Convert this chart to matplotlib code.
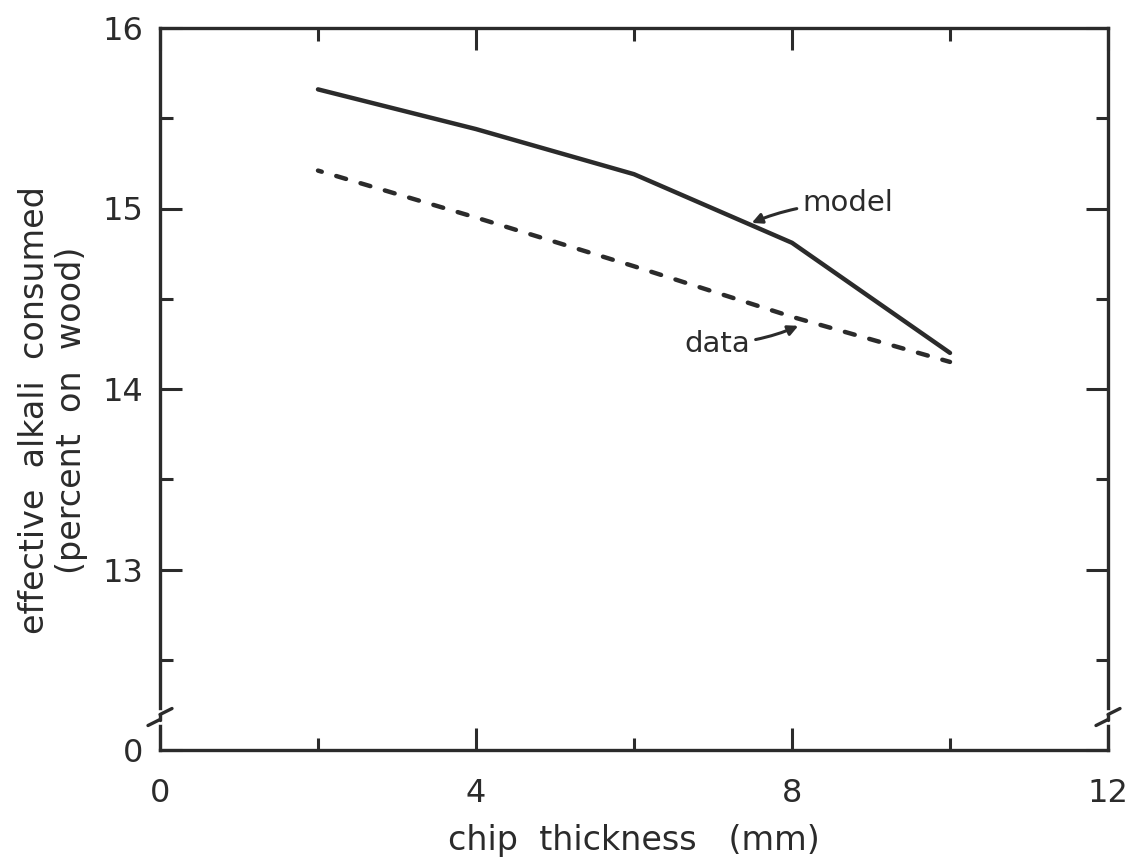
import matplotlib
matplotlib.use("Agg")
import matplotlib.pyplot as plt
from matplotlib.lines import Line2D

# data
chip_thickness = [2, 4, 6, 8, 10]
model_values = [15.66, 15.44, 15.19, 14.81, 14.20]
data_values = [15.21, 14.95, 14.68, 14.40, 14.15]
x_ticks = [0, 4, 8, 12]
x_tick_labels = ["0", "4", "8", "12"]
y_ticks = [12, 13, 14, 15, 16]
y_tick_labels = ["0", "13", "14", "15", "16"]

ink = "#2b2b2b"
plt.rcParams['font.family'] = ['DejaVu Sans']

fig = plt.figure(figsize=(11.29, 8.65), dpi=100)
ax = fig.add_axes([160/1129, 1-750/865, (1108-160)/1129, (750-28)/865])

ax.plot(chip_thickness, model_values, color=ink, lw=3.2, solid_capstyle='round')
# dashed line drawn from the right end so that both ends show a full dash
ax.plot(chip_thickness[::-1], data_values[::-1], color=ink, lw=3.2,
        linestyle=(0.5, (2.3, 3.4)), dash_capstyle='round')

ax.set_xlim(0, 12)
ax.set_ylim(12, 16)
ax.set_xticks(x_ticks)
ax.set_xticklabels(x_tick_labels)
ax.set_xticks([2, 6, 10], minor=True)
ax.set_yticks(y_ticks)
ax.set_yticklabels(y_tick_labels)
ax.set_yticks([12.5, 13.5, 14.5, 15.5], minor=True)

ax.tick_params(which='both', direction='in', top=True, right=True, width=2.2, color=ink,
               labelsize=23, labelcolor=ink)
ax.tick_params(which='major', length=16)
ax.tick_params(which='minor', length=9)
ax.tick_params(axis='x', which='major', pad=20)
ax.tick_params(axis='y', which='major', pad=12)
for s in ax.spines.values():
    s.set_linewidth(2.4)
    s.set_color(ink)

ax.set_xlabel("chip  thickness   (mm)", fontsize=24, color=ink)
ax.xaxis.set_label_coords(0.5, -(824 - 750) / 722, transform=ax.transAxes)
ax.set_ylabel("effective  alkali  consumed\n(percent  on  wood)", fontsize=24, color=ink,
              linespacing=1.15)
ax.yaxis.set_label_coords(-(160 - 88) / 948, (750 - 410) / 722, transform=ax.transAxes)

# annotations
ax.annotate("model", xy=(7.49, 14.92), xytext=(8.13, 15.03), fontsize=21, color=ink,
            va='center', ha='left',
            arrowprops=dict(arrowstyle='-|>', color=ink, lw=2.2, mutation_scale=15,
                            connectionstyle='arc3,rad=0.1', shrinkA=2, shrinkB=0))
ax.annotate("data", xy=(8.08, 14.35), xytext=(7.47, 14.25), fontsize=21, color=ink,
            va='center', ha='right',
            arrowprops=dict(arrowstyle='-|>', color=ink, lw=2.2, mutation_scale=15,
                            connectionstyle='arc3,rad=0.1', shrinkA=2, shrinkB=0))

# axis break marks
yb = (12.18 - 12) / 4.0
fig.canvas.draw()
for xa in (0.0, 1.0):
    ax.add_line(Line2D([xa, xa], [yb - 0.006, yb + 0.006], transform=ax.transAxes,
                       color='white', lw=4, clip_on=False, zorder=5))
    x0, y0 = ax.transAxes.transform((xa, yb))
    for (dx0, dy0, dx1, dy1) in [(-12, -8, 0, -2), (0, 3, 12, 9), (0, -2, 0, 3)]:
        ax.add_line(Line2D([x0 + dx0, x0 + dx1], [y0 + dy0, y0 + dy1], transform=None,
                           color=ink, lw=2.4, clip_on=False, zorder=6,
                           solid_capstyle='round'))

fig.savefig("out.png", dpi=100, facecolor='white')
